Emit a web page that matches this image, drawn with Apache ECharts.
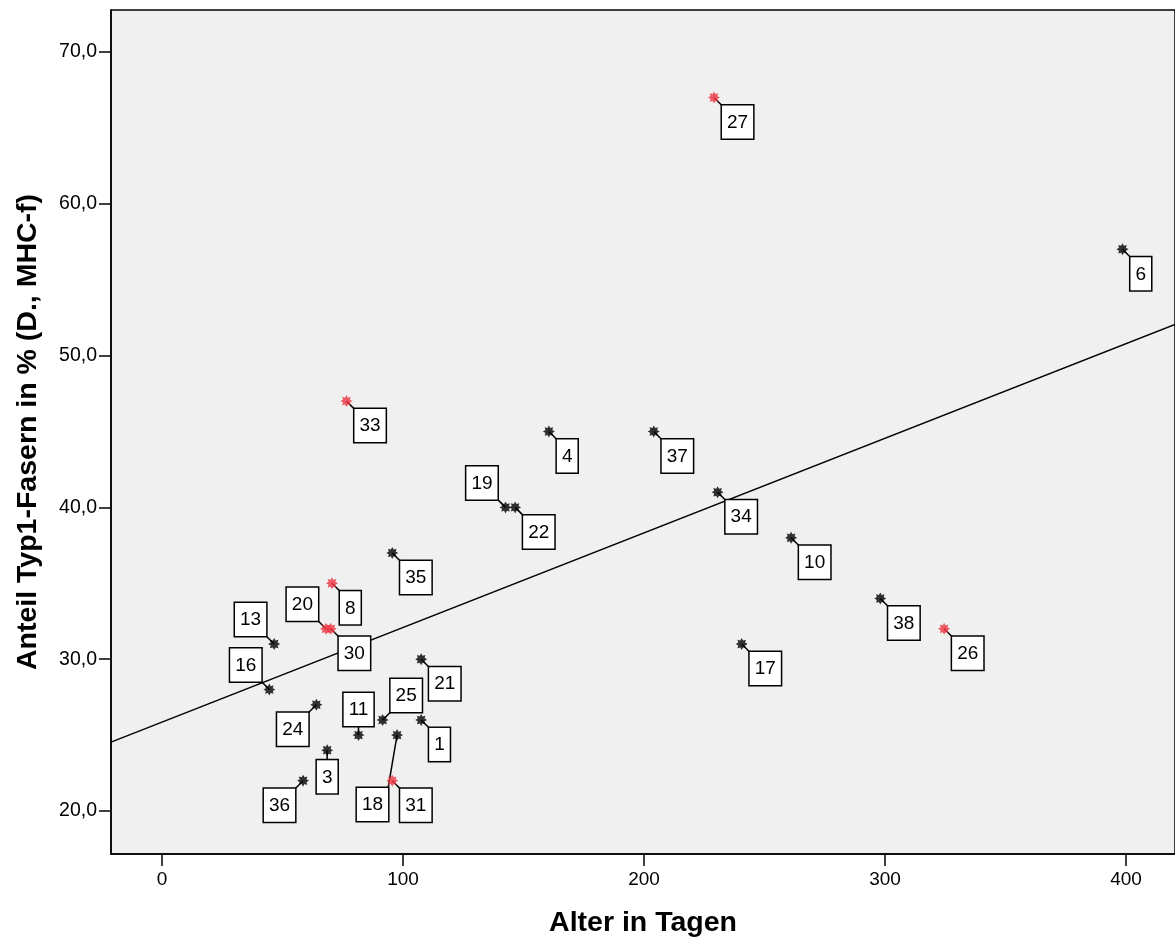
<!DOCTYPE html>
<html>
<head>
<meta charset="utf-8">
<script src="https://cdn.jsdelivr.net/npm/echarts@6/dist/echarts.min.js"></script>
<style>
html,body{margin:0;padding:0;background:#fff}
#chart{width:1175px;height:943px}
</style>
</head>
<body>
<div id="chart"></div>
<script>
// Fallnummern und Werte (Alter in Tagen / Anteil Typ1-Fasern)
const caseIds  = [1, 3, 4, 6, 8, 10, 11, 13, 16, 17, 18, 19, 20, 21, 22, 24, 25, 26, 27, 30, 31, 33, 34, 35, 36, 37, 38];
const ageDays  = [107.5, 68.5, 160.5, 398.5, 70.5, 261, 81.5, 46.5, 44.5, 240.5, 97.5, 142.5, 68, 107.5, 146.5, 64, 91.5, 324.5, 229, 70, 95.5, 76.5, 230.5, 95.5, 58.5, 204, 298];
const type1Pct = [26, 24, 45, 57, 35, 38, 25, 31, 28, 31, 25, 40, 32, 30, 40, 27, 26, 32, 67, 32, 22, 47, 41, 37, 22, 45, 34];
const flagged  = [0, 0, 0, 0, 1, 0, 0, 0, 0, 0, 0, 0, 1, 0, 0, 0, 0, 1, 1, 1, 1, 1, 0, 0, 0, 0, 0];
// Regressionsgerade
const fitIntercept = 25.86;
const fitSlope = 0.0623;
const xTicks = [0, 100, 200, 300, 400];
const yTicks = [20, 30, 40, 50, 60, 70];

// wo die Beschriftung sitzt (br = unten rechts, ul = oben links ...)
const labelPlace = ['br', 'b', 'br', 'br', 'br', 'br', 't', 'ul', 'ul', 'br', 'far', 'ul', 'ul', 'br', 'br', 'bl', 'ur', 'br', 'br', 'br', 'br', 'br', 'br', 'br', 'bl', 'br', 'br'];

const xMin = -21.2, xMax = 420.3;
const yMin = 17.17, yMax = 72.76;
const font = 'Liberation Sans, Arial, sans-serif';

// Sternsymbol wie in SPSS
function starPath(n, r1, r2) {
    let d = '';
    for (let i = 0; i < n * 2; i++) {
        const r = i % 2 ? r2 : r1;
        const a = Math.PI * i / n - Math.PI / 2;
        d += (i ? 'L' : 'M') + (r * Math.cos(a)).toFixed(2) + ' ' + (r * Math.sin(a)).toFixed(2);
    }
    return 'path://' + d + 'Z';
}
const star = starPath(8, 10, 6.2);

const pairs = ageDays.map((x, i) => [x, type1Pct[i]]);
const points = pairs.map((v, i) => ({
    value: v,
    itemStyle: { color: flagged[i] ? '#ee3340' : '#000' }
}));

// Versatz der Kästchen gegenüber dem Punkt
const g = 8;
const placeSpec = {
    br: [g, g, 'left', 'top'],
    ul: [-g, -g, 'right', 'bottom'],
    bl: [-g, g, 'right', 'top'],
    ur: [g, -g, 'left', 'bottom'],
    b: [0, g + 2, 'center', 'top'],
    t: [0, -g - 1, 'center', 'bottom'],
    far: [-g - 1, g + 45, 'right', 'top']
};

function renderLabel(params, api) {
    const i = params.dataIndex;
    const p = api.coord([api.value(0), api.value(1)]);
    const s = placeSpec[labelPlace[i]];
    const ax = p[0] + s[0], ay = p[1] + s[1];
    return {
        type: 'group',
        children: [
            {
                type: 'line',
                shape: { x1: p[0], y1: p[1], x2: ax, y2: ay },
                style: { stroke: '#000', lineWidth: 1.5 }
            },
            {
                type: 'text',
                x: ax, y: ay,
                z2: 10,
                style: {
                    text: String(caseIds[i]),
                    align: s[2], verticalAlign: s[3],
                    fontSize: 19, fontFamily: font, lineHeight: 22,
                    fill: '#000',
                    backgroundColor: '#fff',
                    borderColor: '#000', borderWidth: 1.5,
                    padding: [6, 5, 5, 5]
                }
            }
        ]
    };
}

const black = '#000';
const chart = echarts.init(document.getElementById('chart'));
chart.setOption({
    animation: false,
    textStyle: { fontFamily: font },
    grid: {
        left: 111, right: -1, top: 10, bottom: 88,
        show: true, backgroundColor: '#f0f0f0', borderColor: black, borderWidth: 1.5
    },
    xAxis: {
        type: 'value', min: xMin, max: xMax,
        name: 'Alter in Tagen', nameLocation: 'middle', nameGap: 55,
        nameTextStyle: { fontSize: 28.5, fontWeight: 'bold', color: black },
        axisLine: { show: true, onZero: false, lineStyle: { color: black, width: 1.5 } },
        axisTick: { show: true, length: 12, customValues: xTicks, lineStyle: { color: black, width: 1.5 } },
        axisLabel: { customValues: xTicks, fontSize: 19, color: black, margin: 16 },
        splitLine: { show: false }
    },
    yAxis: {
        type: 'value', min: yMin, max: yMax,
        name: 'Anteil Typ1-Fasern in % (D., MHC-f)', nameLocation: 'middle', nameGap: 68,
        nameTextStyle: { fontSize: 28.5, fontWeight: 'bold', color: black },
        axisLine: { show: true, onZero: false, lineStyle: { color: black, width: 1.5 } },
        axisTick: { show: true, length: 12, customValues: yTicks, lineStyle: { color: black, width: 1.5 } },
        axisLabel: {
            customValues: yTicks, fontSize: 19.5, color: black, margin: 14,
            formatter: v => v.toFixed(1).replace('.', ',')
        },
        splitLine: { show: false }
    },
    series: [
        {
            type: 'line',
            silent: true,
            symbol: 'none',
            z: 1,
            lineStyle: { color: black, width: 1.5 },
            data: [[xMin, fitIntercept + fitSlope * xMin], [xMax, fitIntercept + fitSlope * xMax]]
        },
        {
            type: 'custom',
            z: 2,
            clip: false,
            renderItem: renderLabel,
            data: pairs
        },
        {
            type: 'scatter',
            symbol: star,
            symbolSize: 12,
            z: 3,
            data: points
        }
    ]
});
</script>
</body>
</html>
